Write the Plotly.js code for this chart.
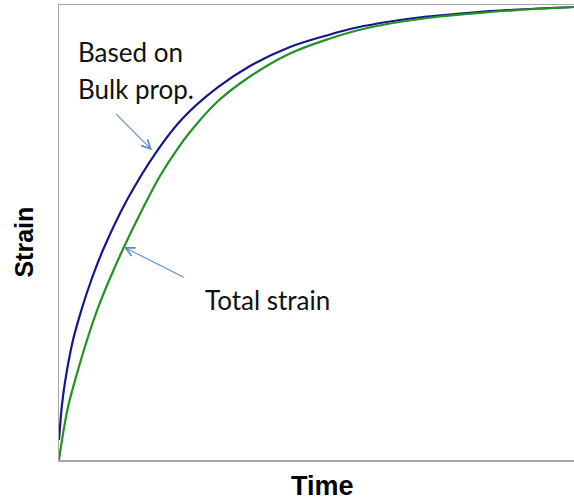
<!DOCTYPE html>
<html>
<head>
<meta charset="utf-8">
<script src="https://cdn.plot.ly/plotly-3.0.1.min.js"></script>
<style>html,body{margin:0;padding:0;background:#fff;}#chart{width:574px;height:502px;}</style>
</head>
<body>
<div id="chart"></div>
<script>
// Time (arbitrary units 0-100) and strain (arbitrary units 0-100)
const timeBulk = [0, 0.58, 1.17, 2.72, 4.47, 6.21, 8.54, 13.20, 19.03, 24.08, 30.68, 37.09, 44.85, 52.62, 57.86, 64.27, 70.68, 79.22, 88.16, 100];
const strainBulk = [4.40, 12.09, 17.14, 26.37, 33.41, 39.34, 46.15, 57.14, 67.91, 75.16, 81.76, 86.59, 90.77, 93.52, 95.05, 96.37, 97.36, 98.24, 98.95, 99.56];
const timeTotal = [0, 0.58, 1.75, 3.69, 5.63, 7.57, 9.51, 12.43, 16.31, 19.61, 22.91, 25.44, 30.68, 37.09, 44.85, 52.62, 57.86, 64.27, 73.98, 79.22, 88.16, 100];
const strainTotal = [0, 4.40, 11.65, 19.78, 27.03, 33.41, 38.90, 46.37, 55.38, 62.42, 68.24, 72.09, 78.68, 84.29, 89.34, 92.64, 94.40, 95.93, 97.47, 98.02, 98.84, 99.56];
const seriesNames = ["Based on Bulk prop.", "Total strain"];
const labelLines = ["Based on", "Bulk prop."];
const axisTitles = ["Time", "Strain"];

const traces = [
  {x: timeBulk, y: strainBulk, name: seriesNames[0], mode: 'lines', line: {color: '#17178c', width: 2.2, shape: 'spline', smoothing: 1}},
  {x: timeTotal, y: strainTotal, name: seriesNames[1], mode: 'lines', line: {color: '#229322', width: 2.2, shape: 'spline', smoothing: 1}}
];

const textFont = {family: 'Lato, "Open Sans", sans-serif', size: 26, color: '#111'};
const titleFont = (s) => ({family: '"Liberation Sans", Arial, sans-serif', size: s, color: '#000'});
const arrowColor = '#5a8ccc';

const layout = {
  width: 574, height: 502,
  margin: {l: 59, r: 0, t: 5, b: 42},
  paper_bgcolor: '#fff', plot_bgcolor: '#fff',
  showlegend: false,
  xaxis: {range: [0, 100], showgrid: false, zeroline: false, showticklabels: false, ticks: '',
          showline: true, mirror: true, linecolor: '#a6a6a6', linewidth: 1.5, fixedrange: true},
  yaxis: {range: [0, 100], showgrid: false, zeroline: false, showticklabels: false, ticks: '',
          showline: true, mirror: false, linecolor: '#a6a6a6', linewidth: 1.5, fixedrange: true},
  annotations: [
    {xref: 'paper', yref: 'paper', x: 0.511, y: -0.057, xanchor: 'center', yanchor: 'middle', showarrow: false,
     text: '<b>' + axisTitles[0] + '</b>', font: titleFont(27)},
    {xref: 'paper', yref: 'paper', x: -0.068, y: 0.48, xanchor: 'center', yanchor: 'middle', showarrow: false, textangle: -90,
     text: '<b>' + axisTitles[1] + '</b>', font: titleFont(25)},
    {xref: 'x', yref: 'y', x: 3.3, y: 89.7, xanchor: 'left', yanchor: 'middle', showarrow: false,
     text: labelLines[0], font: textFont},
    {xref: 'x', yref: 'y', x: 3.3, y: 81.5, xanchor: 'left', yanchor: 'middle', showarrow: false,
     text: labelLines[1], font: textFont},
    {xref: 'x', yref: 'y', x: 28.0, y: 35.2, xanchor: 'left', yanchor: 'middle', showarrow: false,
     text: seriesNames[1], font: textFont},
    {xref: 'x', yref: 'y', x: 18.06, y: 68.1, axref: 'x', ayref: 'y', ax: 10.87, ay: 76.3, text: '', showarrow: true,
     arrowhead: 5, arrowsize: 1.6, arrowwidth: 1.1, arrowcolor: arrowColor},
    {xref: 'x', yref: 'y', x: 12.6, y: 46.8, axref: 'x', ayref: 'y', ax: 24.5, ay: 40.0, text: '', showarrow: true,
     arrowhead: 5, arrowsize: 1.6, arrowwidth: 1.1, arrowcolor: arrowColor}
  ]
};

Plotly.newPlot('chart', traces, layout, {displayModeBar: false, staticPlot: true});
</script>
</body>
</html>
